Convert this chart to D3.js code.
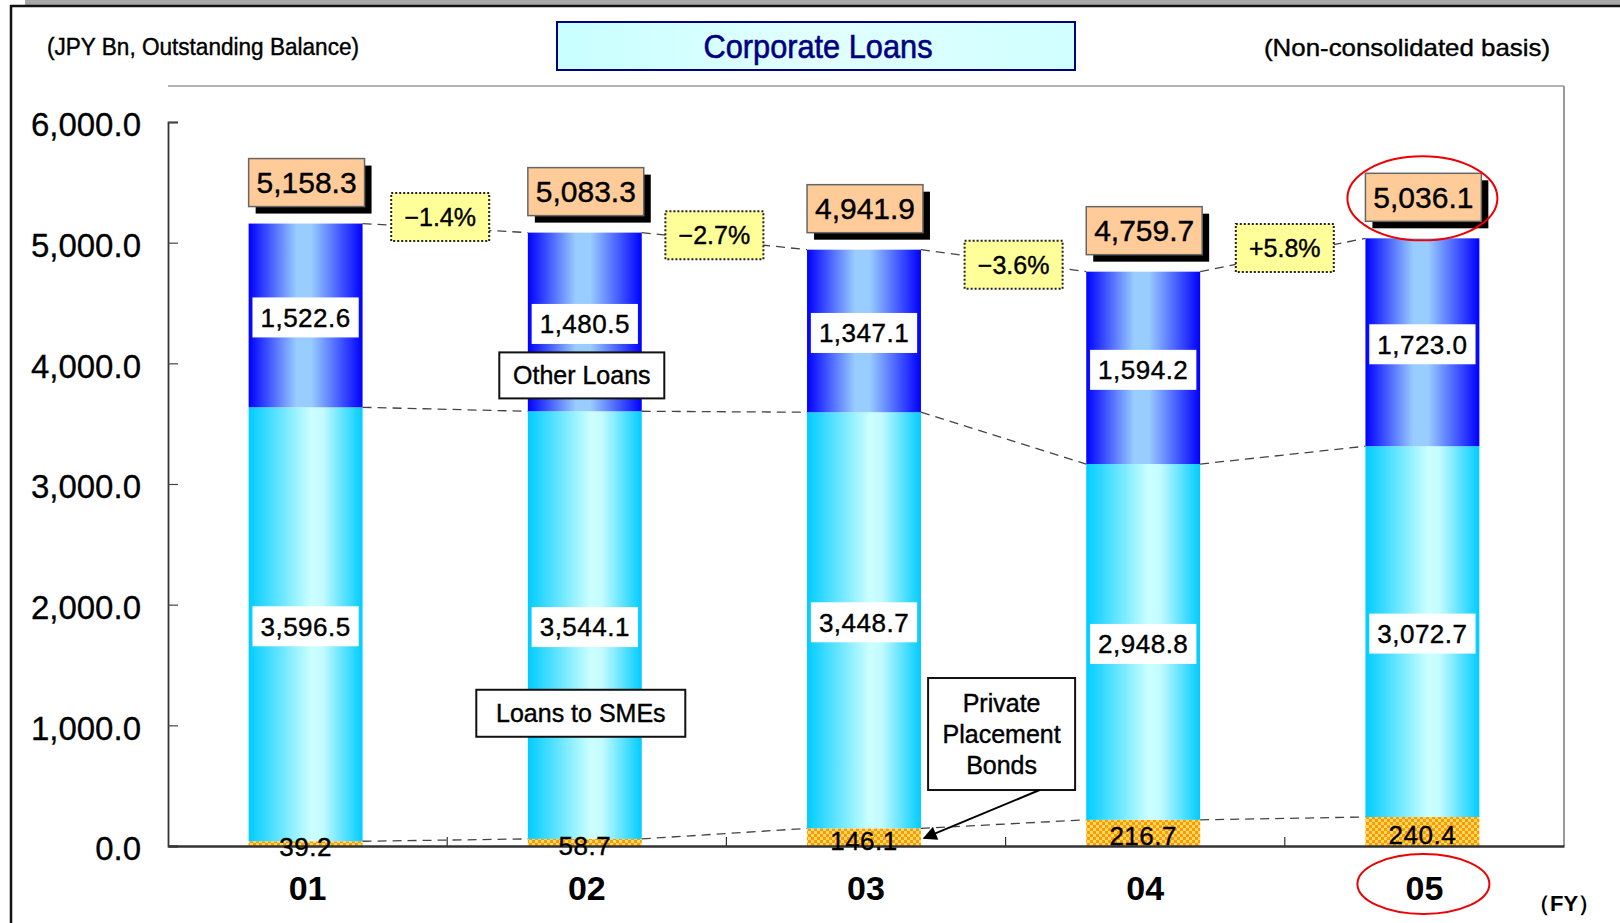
<!DOCTYPE html>
<html>
<head>
<meta charset="utf-8">
<script src="https://cdn.jsdelivr.net/npm/d3@7"></script>
<style>
  html, body { margin: 0; padding: 0; background: #ffffff; }
  svg { display: block; }
  text { font-family: "Liberation Sans", Arial, sans-serif; }
</style>
</head>
<body>
<svg id="chart" width="1620" height="923"></svg>
<script>
// Corporate loans, outstanding balance by fiscal year (JPY Bn)
const years = ["01", "02", "03", "04", "05"];
const privateBonds = [39.2, 58.7, 146.1, 216.7, 240.4];
const smeLoans = [3596.5, 3544.1, 3448.7, 2948.8, 3072.7];
const otherLoans = [1522.6, 1480.5, 1347.1, 1594.2, 1723.0];
const totals = [5158.3, 5083.3, 4941.9, 4759.7, 5036.1];
const changeLabels = ["\u22121.4%", "\u22122.7%", "\u22123.6%", "+5.8%"];
const yTickValues = [0, 1000, 2000, 3000, 4000, 5000, 6000];

// layout
const plot = { left: 168, right: 1564, top: 86, bottom: 846 };
const changeNudge = [[-7, -11], [-12, -6], [8, 4], [0, -7]];

const svg = d3.select("#chart");
const defs = svg.append("defs");

// gradients and fill pattern
function hGrad(id, stops) {
  const g = defs.append("linearGradient").attr("id", id)
    .attr("x1", "0%").attr("x2", "100%").attr("y1", "0%").attr("y2", "0%");
  stops.forEach(([o, c]) => g.append("stop").attr("offset", o).attr("stop-color", c));
}
hGrad("gOther", [[0, "#0000ff"], [0.42, "#99ccff"], [0.55, "#99ccff"], [1, "#0000ff"]]);
hGrad("gSme", [[0, "#00ccff"], [0.55, "#ccffff"], [0.65, "#c4fbff"], [1, "#00ccff"]]);
hGrad("gTitle", [[0, "#c8ffff"], [0.5, "#e2ffff"], [1, "#d0ffff"]]);

const pat = defs.append("pattern").attr("id", "pBonds")
  .attr("patternUnits", "userSpaceOnUse").attr("width", 6).attr("height", 6);
pat.append("rect").attr("width", 6).attr("height", 6).attr("fill", "#ffd966");
pat.append("rect").attr("width", 3).attr("height", 3).attr("fill", "#ff9900");
pat.append("rect").attr("x", 3).attr("y", 3).attr("width", 3).attr("height", 3).attr("fill", "#ff9900");

defs.append("marker").attr("id", "arrowHead")
  .attr("viewBox", "0 0 10 10").attr("refX", 9).attr("refY", 5)
  .attr("markerWidth", 18).attr("markerHeight", 14).attr("markerUnits", "userSpaceOnUse")
  .attr("orient", "auto")
  .append("path").attr("d", "M0,0 L10,5 L0,10 Z").attr("fill", "#000");

// page frame
svg.append("rect").attr("x", 25).attr("y", 0).attr("width", 1595).attr("height", 5).attr("fill", "#a8a8a8");
svg.append("line").attr("x1", 10).attr("x2", 1620).attr("y1", 6).attr("y2", 6)
  .attr("stroke", "#111").attr("stroke-width", 2.5);
svg.append("line").attr("x1", 11).attr("x2", 11).attr("y1", 5).attr("y2", 923)
  .attr("stroke", "#111").attr("stroke-width", 2.5);

// scales
const x = d3.scaleBand().domain(years)
  .range([plot.left, plot.right]).paddingInner(0.592).paddingOuter(0.296);
const y = d3.scaleLinear().domain([0, 6000]).range([plot.bottom, plot.bottom - 724]);
const bw = x.bandwidth();
const step = x.step();

// stacked data
const table = years.map((yr, i) => ({ year: yr, bonds: privateBonds[i], sme: smeLoans[i], other: otherLoans[i] }));
const keys = ["bonds", "sme", "other"];
const stacked = d3.stack().keys(keys)(table);
const fills = { bonds: "url(#pBonds)", sme: "url(#gSme)", other: "url(#gOther)" };

// plot frame
svg.append("line").attr("x1", plot.left).attr("x2", plot.right).attr("y1", plot.top).attr("y2", plot.top)
  .attr("stroke", "#999").attr("stroke-width", 1.5);
svg.append("line").attr("x1", plot.right).attr("x2", plot.right).attr("y1", plot.top).attr("y2", plot.bottom)
  .attr("stroke", "#999").attr("stroke-width", 2);

// bars
const segs = svg.append("g").attr("transform", "translate(-2,0)");
stacked.forEach(layer => {
  segs.selectAll(null).data(layer).join("rect")
    .attr("x", d => x(d.data.year))
    .attr("width", bw)
    .attr("y", d => y(d[1]))
    .attr("height", d => y(d[0]) - y(d[1]))
    .attr("fill", fills[layer.key]);
});

// y axis
const yAxis = svg.append("g").attr("transform", `translate(${plot.left},0)`)
  .call(d3.axisLeft(y).tickValues(yTickValues).tickFormat(d3.format(",.1f")).tickSize(-10).tickPadding(27));
yAxis.select(".domain").attr("stroke", "#333").attr("stroke-width", 1.8);
yAxis.selectAll(".tick line").attr("stroke", "#444").attr("stroke-width", 1.2);
yAxis.selectAll(".tick text").attr("font-size", 33).attr("fill", "#000").attr("dy", "0.42em")
  .attr("stroke", "#000").attr("stroke-width", 0.3)
  .attr("font-family", "'Liberation Sans', Arial, sans-serif");

// x axis
const xAxis = svg.append("g").attr("transform", `translate(0,${plot.bottom})`)
  .call(d3.axisBottom(x).tickSize(0).tickPadding(30));
xAxis.select(".domain").attr("stroke", "#333").attr("stroke-width", 2.5);
xAxis.selectAll(".tick text").attr("font-size", 34).attr("font-weight", "bold").attr("fill", "#000")
  .attr("font-family", "'Liberation Sans', Arial, sans-serif").attr("dy", "0.71em");
// category separators
svg.append("g").selectAll("line").data(years.slice(1)).join("line")
  .attr("x1", d => x(d) - step * 0.296).attr("x2", d => x(d) - step * 0.296)
  .attr("y1", plot.bottom).attr("y2", plot.bottom - 9)
  .attr("stroke", "#333").attr("stroke-width", 1.2);

// dashed connectors between adjacent bars
const conn = svg.append("g").attr("transform", "translate(-2,0)")
  .attr("fill", "none").attr("stroke", "#444")
  .attr("stroke-width", 1.3).attr("stroke-dasharray", "9,6");
stacked.forEach(layer => {
  d3.pairs(layer).forEach(([a, b]) => {
    conn.append("line")
      .attr("x1", x(a.data.year) + bw).attr("y1", y(a[1]))
      .attr("x2", x(b.data.year)).attr("y2", y(b[1]));
  });
});

// year-on-year change boxes
const chg = svg.append("g");
d3.pairs(totals).forEach(([a, b], i) => {
  const cx = x(years[i + 1]) - step * 0.296 + changeNudge[i][0];
  const cy = (y(a) + y(b)) / 2 + changeNudge[i][1];
  chg.append("rect").attr("x", cx - 49).attr("y", cy - 24).attr("width", 98).attr("height", 48)
    .attr("fill", "#ffff99").attr("stroke", "#222").attr("stroke-width", 2).attr("stroke-dasharray", "2,2");
  chg.append("text").attr("x", cx).attr("y", cy).attr("dy", "0.36em")
    .attr("text-anchor", "middle").attr("font-size", 25).attr("fill", "#000")
    .attr("stroke", "#000").attr("stroke-width", 0.4)
    .text(changeLabels[i]);
});

// total labels with drop shadow
const tot = svg.append("g").attr("transform", "translate(-2,0)");
totals.forEach((t, i) => {
  const bx = x(years[i]);
  const by = y(t) - 17 - 48;
  tot.append("rect").attr("x", bx + 7).attr("y", by + 7).attr("width", bw + 2).attr("height", 48).attr("fill", "#000");
  tot.append("rect").attr("x", bx).attr("y", by).attr("width", bw + 2).attr("height", 48)
    .attr("fill", "#ffcc99").attr("stroke", "#666").attr("stroke-width", 1.5);
  tot.append("text").attr("x", bx + bw / 2 + 1).attr("y", by + 24).attr("dy", "0.36em")
    .attr("text-anchor", "middle").attr("font-size", 30).attr("fill", "#000")
    .attr("stroke", "#000").attr("stroke-width", 0.4)
    .text(d3.format(",.1f")(t));
});

// segment value labels
const lab = svg.append("g").attr("transform", "translate(-2,0)");
const fmt = d3.format(",.1f");
stacked.forEach(layer => {
  layer.forEach(d => {
    const cx = x(d.data.year) + bw / 2;
    const cy = (y(d[0]) + y(d[1])) / 2 + 2;
    const v = d.data[layer.key];
    const t = lab.append("text").attr("x", cx).attr("y", cy + (layer.key === "bonds" ? 1 : 0)).attr("dy", "0.36em")
      .attr("text-anchor", "middle").attr("font-size", 26).attr("fill", "#000")
      .attr("stroke", "#000").attr("stroke-width", 0.4)
      .attr("letter-spacing", 0.5)
      .text(fmt(v));
    if (layer.key !== "bonds") {
      const w = t.node().getComputedTextLength();
      lab.insert("rect", function () { return t.node(); })
        .attr("x", cx - w / 2 - 8).attr("y", cy - 20).attr("width", w + 16).attr("height", 40)
        .attr("fill", "#fff");
    }
  });
});

// series call-out boxes
function callout(lines, cx, cy, w, h) {
  const g = svg.append("g");
  g.append("rect").attr("x", cx - w / 2).attr("y", cy - h / 2).attr("width", w).attr("height", h)
    .attr("fill", "#fff").attr("stroke", "#111").attr("stroke-width", 2);
  const lh = 31;
  lines.forEach((s, k) => {
    g.append("text").attr("x", cx).attr("y", cy + (k - (lines.length - 1) / 2) * lh).attr("dy", "0.36em")
      .attr("text-anchor", "middle").attr("font-size", 25).attr("fill", "#000")
      .attr("stroke", "#000").attr("stroke-width", 0.4)
      .text(s);
  });
  return g;
}
callout(["Other Loans"], x("02") + bw / 2 - 5, y(3900), 165, 46);
callout(["Loans to SMEs"], x("02") + bw / 2 - 6, y(1100), 209, 47);
const ppbX = x("04") - step * 0.296 - 4;
callout(["Private", "Placement", "Bonds"], ppbX, y(928), 147, 112);
svg.append("line")
  .attr("x1", ppbX + 38).attr("y1", y(928) + 56)
  .attr("x2", x("03") + bw + 1).attr("y2", y(65))
  .attr("stroke", "#000").attr("stroke-width", 2)
  .attr("marker-end", "url(#arrowHead)");

// header
svg.append("rect").attr("x", 557).attr("y", 22).attr("width", 518).attr("height", 48)
  .attr("fill", "url(#gTitle)").attr("stroke", "#000080").attr("stroke-width", 2);
svg.append("text").attr("x", 818).attr("y", 46).attr("dy", "0.36em").attr("text-anchor", "middle")
  .attr("font-size", 33).attr("fill", "#000080").attr("stroke", "#000080").attr("stroke-width", 0.6)
  .attr("textLength", 229).attr("lengthAdjust", "spacingAndGlyphs")
  .text("Corporate Loans");
svg.append("text").attr("x", 47).attr("y", 55)
  .attr("font-size", 23).attr("fill", "#000").attr("stroke", "#000").attr("stroke-width", 0.4)
  .attr("textLength", 312).attr("lengthAdjust", "spacingAndGlyphs")
  .text("(JPY Bn, Outstanding Balance)");
svg.append("text").attr("x", 1264).attr("y", 56)
  .attr("font-size", 24).attr("fill", "#000").attr("stroke", "#000").attr("stroke-width", 0.4)
  .attr("textLength", 286).attr("lengthAdjust", "spacingAndGlyphs")
  .text("(Non-consolidated basis)");
svg.append("text").attr("x", 1564).attr("y", 911).attr("text-anchor", "middle")
  .attr("font-size", 22).attr("font-weight", "bold").attr("fill", "#000")
  .attr("font-family", "'Noto Sans CJK JP', 'Liberation Sans', sans-serif")
  .text("（FY）");

// highlight of the latest year
svg.append("ellipse").attr("cx", x("05") + bw / 2 - 2).attr("cy", y(totals[4]) - 40)
  .attr("rx", 75).attr("ry", 42).attr("fill", "none").attr("stroke", "#ee0000").attr("stroke-width", 2);
svg.append("ellipse").attr("cx", x("05") + bw / 2 - 1).attr("cy", plot.bottom + 38)
  .attr("rx", 66).attr("ry", 30).attr("fill", "none").attr("stroke", "#ee0000").attr("stroke-width", 2);
</script>
</body>
</html>
